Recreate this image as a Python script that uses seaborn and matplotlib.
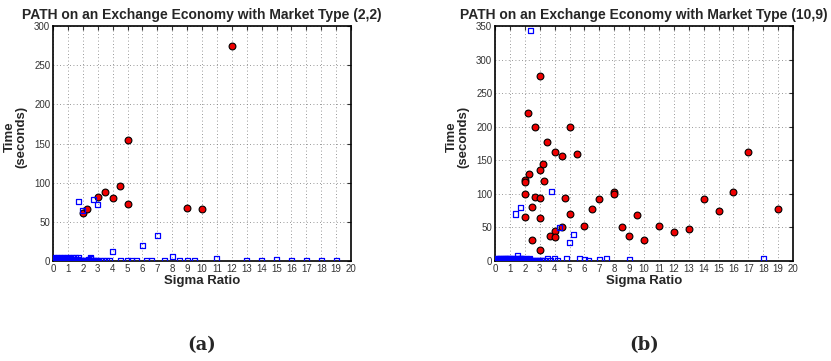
import numpy as np
import pandas as pd
import seaborn as sns
import matplotlib.pyplot as plt

# ---- panel (a): market type (2,2) ----
a_red_x = [2, 2.3, 3, 3.5, 4, 4.5, 5, 5, 9, 10, 12]
a_red_y = [61, 66, 82, 88, 81, 96, 154, 73, 68, 67, 275]

a_blue_x = [1.7, 2, 2.7, 3, 4, 6, 7, 8, 11, 13, 14, 15, 16, 17, 18, 19,
            4.5, 5, 5.3, 5.6, 6.3, 6.6, 7.5, 8.5, 9, 9.5,
            0.05, 0.1, 0.15, 0.2, 0.25, 0.3, 0.35, 0.4, 0.45, 0.5, 0.55, 0.6,
            0.65, 0.7, 0.75, 0.8, 0.85, 0.9, 0.95, 1.0, 1.05, 1.1, 1.15, 1.2,
            1.25, 1.3, 1.35, 1.4, 1.45, 1.5, 1.6, 1.7, 1.8, 1.9, 2.0, 2.1,
            2.2, 2.3, 2.4, 2.5, 2.6, 2.7, 2.8, 2.9, 3.0, 3.2, 3.4, 3.6, 3.8,
            0.1, 0.3, 0.5, 0.7, 0.9, 1.1, 1.3, 1.5, 1.7, 2.5, 0.2, 0.6, 1.0]
a_blue_y = [76, 65, 78, 72, 12, 20, 32, 6, 3, 1, 1, 2, 1, 1, 1, 0.5,
            1, 1, 1, 1, 1, 1, 1, 1, 1, 1,
            1, 2, 1, 3, 1, 2, 1, 3, 2, 1, 3, 2,
            1, 3, 2, 1, 3, 2, 1, 3, 2, 1, 3, 2,
            1, 2, 1, 2, 1, 1, 1, 2, 1, 1, 1, 1,
            1, 1, 2, 3, 1, 1, 1, 1, 1, 1, 1, 1, 1,
            4, 4, 4, 4, 4, 4, 4, 4, 4, 4, 0.5, 0.5, 0.5]

# ---- panel (b): market type (10,9) ----
b_red_x = [3, 2.2, 2.7, 5, 3.5, 4, 4.5, 5.5, 3.2, 2.3, 3, 2, 2, 3.3, 2, 2.7,
           3, 4.7, 8, 8, 7, 2.5, 6.5, 5, 9.5, 2, 3, 6, 8.5, 4, 4.5, 3.7, 4,
           9, 10, 2.5, 3, 11, 12, 13, 14, 15, 16, 17, 19]
b_red_y = [275, 220, 200, 199, 177, 162, 156, 160, 145, 130, 135, 121, 117,
           119, 100, 96, 94, 94, 103, 100, 93, 80, 78, 70, 68, 65, 64, 52,
           51, 45, 50, 37, 36, 37, 32, 32, 17, 52, 43, 48, 93, 74, 103, 162, 78]

b_blue_x = [2.4, 3.8, 1.7, 1.4, 4.3, 5.3, 5, 1.5, 3.5, 4, 4.8, 5.7, 6, 6.3, 7,
            7.5, 9, 18, 3.2, 3.7, 4.2,
            0.05, 0.1, 0.15, 0.2, 0.25, 0.3, 0.35, 0.4, 0.45, 0.5, 0.55, 0.6,
            0.65, 0.7, 0.75, 0.8, 0.85, 0.9, 0.95, 1.0, 1.05, 1.1, 1.15, 1.2,
            1.25, 1.3, 1.35, 1.4, 1.45, 1.5, 1.6, 1.7, 1.8, 1.9, 2.0, 2.1,
            2.2, 2.3, 2.4, 2.5, 2.6, 2.7, 2.8, 2.9, 3.0, 3.1, 3.3,
            0.1, 0.3, 0.5, 0.7, 0.9, 1.1, 1.3, 1.5, 1.7, 1.9, 2.1, 2.3]
b_blue_y = [343, 104, 80, 70, 50, 40, 27, 8, 3, 4, 3, 4, 2, 1, 2,
            3, 2, 3, 1, 1, 1,
            1, 2, 1, 3, 1, 2, 1, 3, 2, 1, 3, 2,
            1, 3, 2, 1, 3, 2, 1, 3, 2, 1, 3, 2,
            1, 2, 1, 2, 1, 3, 2, 4, 3, 2, 1, 2,
            1, 2, 1, 1, 1, 1, 1, 1, 1, 1, 1,
            4, 4, 4, 4, 4, 4, 4, 4, 4, 4, 3, 3]

titles = ["PATH on an Exchange Economy with Market Type (2,2)",
          "PATH on an Exchange Economy with Market Type (10,9)"]
captions = ["(a)", "(b)"]
ymax = [300, 350]

sns.set_style("white")
plt.rcParams['font.family'] = ['Liberation Sans', 'DejaVu Sans']

fig = plt.figure(figsize=(8.31, 3.61), dpi=100)
ax1 = fig.add_axes([53 / 831, 100 / 361, 298 / 831, 235 / 361])
ax2 = fig.add_axes([495 / 831, 100 / 361, 298 / 831, 235 / 361])

panels = [(ax1, a_red_x, a_red_y, a_blue_x, a_blue_y),
          (ax2, b_red_x, b_red_y, b_blue_x, b_blue_y)]

for i, (ax, rx, ry, bx, by) in enumerate(panels):
    red = pd.DataFrame({"x": rx, "y": ry})
    blue = pd.DataFrame({"x": bx, "y": by})
    sns.scatterplot(data=red, x="x", y="y", ax=ax, marker="o", s=24,
                    color="#ee0000", edgecolor="black", linewidth=0.8, zorder=3)
    sns.scatterplot(data=blue, x="x", y="y", ax=ax, marker="s", s=13,
                    facecolor="none", edgecolor="#0000ff", linewidth=0.9, zorder=4)
    ax.set_xlim(0, 20)
    ax.set_ylim(0, ymax[i])
    ax.set_xticks(range(0, 21))
    ax.set_yticks(range(0, ymax[i] + 1, 50))
    ax.grid(True, linestyle=(0, (1, 3)), color="#777777", linewidth=0.6)
    ax.tick_params(direction="in", length=3, labelsize=7, colors="#333333",
                   top=True, right=True, pad=2)
    for sp in ax.spines.values():
        sp.set_color("black")
        sp.set_linewidth(1.2)
    ax.set_title(titles[i], fontsize=10, fontweight="bold", pad=5)
    ax.set_xlabel("Sigma Ratio", fontsize=9.5, fontweight="bold", labelpad=1)
    ax.set_ylabel("Time\n(seconds)", fontsize=9.5, fontweight="bold",
                  linespacing=1.0)
    ax.yaxis.set_label_coords(-0.085, 0.53)
    cx = (ax.get_position().x0 + ax.get_position().x1) / 2
    fig.text(cx, 1 - 345 / 361, captions[i], ha="center", va="center",
             fontsize=13, fontweight="bold", family="DejaVu Serif")

fig.savefig("out.png", dpi=100)
